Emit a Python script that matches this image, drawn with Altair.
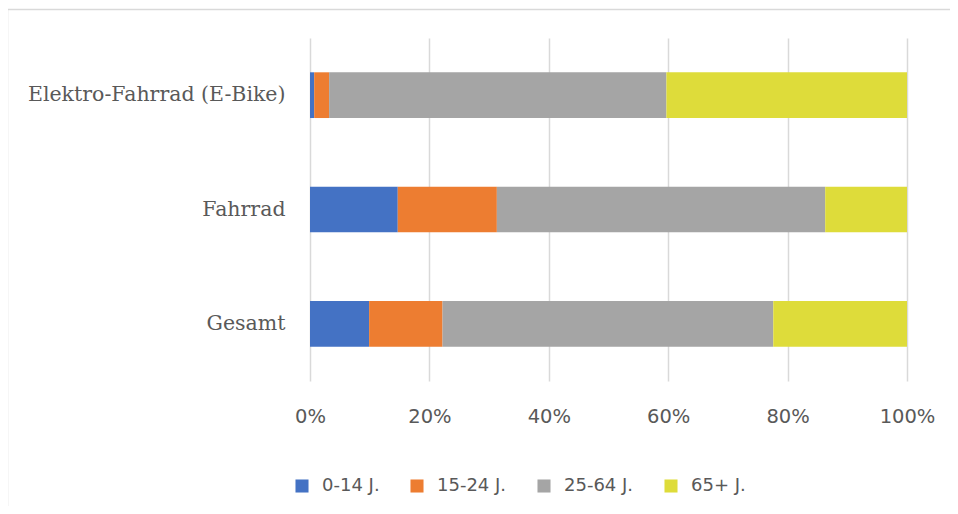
import altair as alt
import pandas as pd

categories = ["Elektro-Fahrrad (E-Bike)", "Fahrrad", "Gesamt"]
groups = ["0-14 J.", "15-24 J.", "25-64 J.", "65+ J."]
colors = ["#4472C4", "#ED7D31", "#A5A5A5", "#DEDC3A"]

share_0_14 = [0.7, 14.7, 9.9]
share_15_24 = [2.5, 16.6, 12.3]
share_25_64 = [56.5, 55.0, 55.4]
share_65 = [40.3, 13.7, 22.4]

rows = []
for i, c in enumerate(categories):
    for j, (g, vals) in enumerate(zip(groups, [share_0_14, share_15_24, share_25_64, share_65])):
        rows.append({"cat": c, "group": g, "order": j, "value": vals[i]})
df = pd.DataFrame(rows)

label_font = "DejaVu Sans"
cat_font = "DejaVu Serif"
text_color = "#595959"

bars = alt.Chart(df).mark_bar().encode(
    y=alt.Y("cat:N", sort=categories, title=None,
            scale=alt.Scale(paddingInner=0.6, paddingOuter=0.3),
            axis=alt.Axis(domain=False, ticks=False, labelFont=cat_font,
                          labelFontSize=20.5, labelColor=text_color, labelPadding=25,
                          labelLimit=400)),
    x=alt.X("value:Q", stack="normalize", title=None,
            scale=alt.Scale(domain=[0, 1]),
            axis=alt.Axis(format="%", values=[0, 0.2, 0.4, 0.6, 0.8, 1.0],
                          domain=False, ticks=False, grid=True, labelFlush=False,
                          gridColor="#D9D9D9", gridWidth=1.5,
                          labelFont=label_font, labelFontSize=19.5,
                          labelColor=text_color, labelPadding=26)),
    color=alt.Color("group:N", sort=groups,
                    scale=alt.Scale(domain=groups, range=colors),
                    legend=alt.Legend(title=None, orient="none", direction="horizontal",
                                      legendX=-17, legendY=439,
                                      symbolType="square", symbolSize=170,
                                      symbolStrokeWidth=0,
                                      labelFont=label_font, labelFontSize=18,
                                      labelColor=text_color, labelOffset=11,
                                      columnPadding=28)),
    order=alt.Order("order:Q"),
)

frame = pd.DataFrame({"a": [0]})
top_line = alt.Chart(frame).mark_rule(color="#D9D9D9", strokeWidth=1.5).encode(
    x=alt.value(-302.5), x2=alt.value(642), y=alt.value(-28.5))
left_line = alt.Chart(frame).mark_rule(color="#D9D9D9", strokeWidth=1.5).encode(
    x=alt.value(-302.5), y=alt.value(-28.5), y2=alt.value(470))

chart = alt.layer(bars, top_line, left_line).properties(
    width=597, height=343,
    autosize=alt.AutoSizeParams(type="none"),
    padding={"left": 302, "top": 30, "right": 43, "bottom": 125},
).configure_view(stroke=None)

chart.save("out.html", embed_options={"renderer": "svg", "actions": False})
